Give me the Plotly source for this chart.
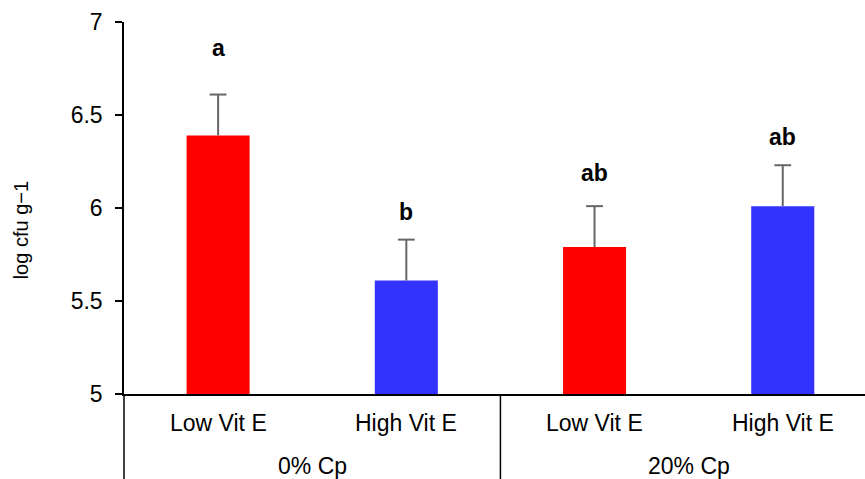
import plotly.graph_objects as go

# ---- data ----
groups = ["0% Cp", "0% Cp", "20% Cp", "20% Cp"]
treatments = ["Low Vit E", "High Vit E", "Low Vit E", "High Vit E"]
means = [6.39, 5.61, 5.79, 6.01]
errors = [0.22, 0.22, 0.22, 0.22]
letters = ["a", "b", "ab", "ab"]
letter_y = [6.86, 5.98, 6.19, 6.38]
bar_colors = ["#FF0000", "#3333FF", "#FF0000", "#3333FF"]
group_names = ["0% Cp", "20% Cp"]
y_ticks = [5, 5.5, 6, 6.5, 7]
y_title = "log cfu g\u22121"

FONT = "Liberation Sans, Arial, sans-serif"
xpos = list(range(len(means)))
tops = [m + e for m, e in zip(means, errors)]

fig = go.Figure()
fig.add_trace(go.Bar(
    x=xpos, y=[m - 5 for m in means], base=5,
    marker=dict(color=bar_colors, line=dict(width=0)),
    width=0.335,
    showlegend=False, hoverinfo="skip",
))
# upward-only error bars: stem drawn down from the top, cap as a marker
fig.add_trace(go.Scatter(
    x=xpos, y=tops, mode="markers",
    marker=dict(symbol="line-ew", size=12,
                line=dict(color="#666666", width=2)),
    error_y=dict(type="data", symmetric=False, array=[0] * len(errors),
                 arrayminus=errors, color="#666666", thickness=2, width=0),
    showlegend=False, hoverinfo="skip",
))

ann = []
for i, t in enumerate(treatments):
    ann.append(dict(x=i, y=-0.078, xref="x", yref="paper", text=t,
                    showarrow=False, yanchor="middle",
                    font=dict(size=23, color="black", family=FONT)))
for gi, g in enumerate(group_names):
    ann.append(dict(x=gi * 2 + 0.5, y=-0.194, xref="x", yref="paper", text=g,
                    showarrow=False, yanchor="middle",
                    font=dict(size=23, color="black", family=FONT)))
for i, (l, ly) in enumerate(zip(letters, letter_y)):
    ann.append(dict(x=i, y=ly, xref="x", yref="y", text="<b>%s</b>" % l,
                    showarrow=False, yanchor="middle",
                    font=dict(size=23, color="black", family=FONT)))
ann.append(dict(x=-0.139, y=0.44, xref="paper", yref="paper", text=y_title,
                textangle=-90, showarrow=False, xanchor="center",
                yanchor="middle",
                font=dict(size=20, color="black", family=FONT)))

bottom = -0.23
shapes = [
    dict(type="line", xref="paper", yref="paper", x0=0, x1=0, y0=bottom, y1=0,
         line=dict(color="black", width=1.5)),
    dict(type="line", xref="x", yref="paper", x0=1.5, x1=1.5, y0=bottom, y1=0,
         line=dict(color="black", width=1.5)),
]

fig.update_layout(
    width=865, height=479,
    margin=dict(l=124, r=0, t=22, b=85),
    paper_bgcolor="white", plot_bgcolor="white",
    font=dict(family=FONT, color="black"),
    annotations=ann, shapes=shapes,
    xaxis=dict(range=[-0.5, 3.437], showticklabels=False, showgrid=False,
               zeroline=False, showline=True, linecolor="black", linewidth=1.5,
               ticks=""),
    yaxis=dict(range=[5, 7], tickvals=y_ticks, ticktext=[str(v) for v in y_ticks],
               showgrid=False, zeroline=False, showline=True, linecolor="black",
               linewidth=1.5, ticks="outside", ticklen=7, tickwidth=1.5,
               tickcolor="black", tickfont=dict(size=23, family=FONT),
               ticklabelstandoff=8),
)

fig.write_html("out.html", config={"displayModeBar": False},
               post_script="document.body.style.margin='0';document.body.style.overflow='hidden';")
